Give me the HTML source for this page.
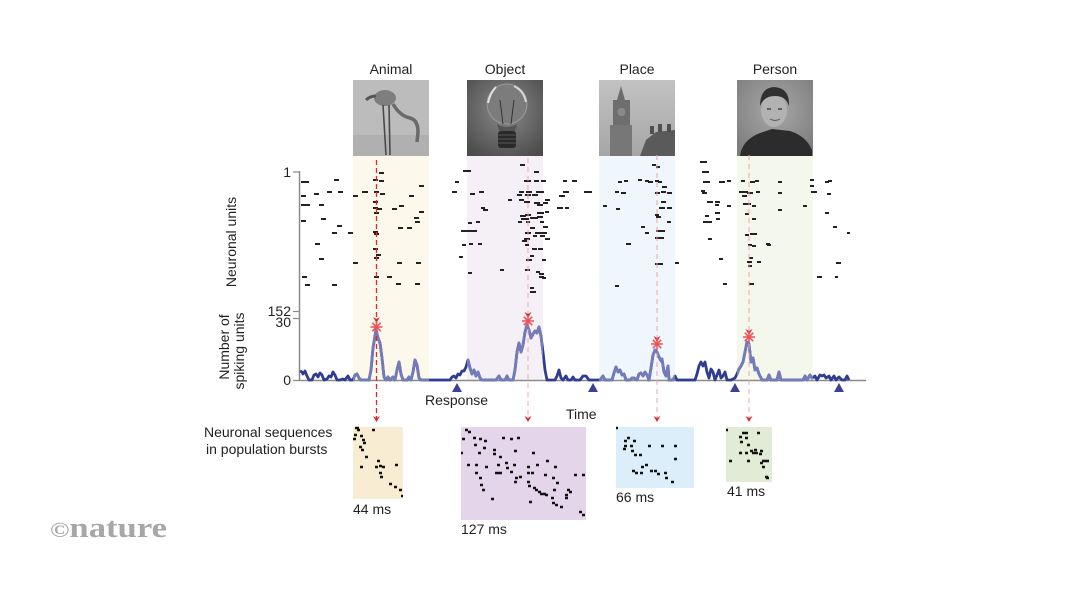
<!DOCTYPE html>
<html><head><meta charset="utf-8">
<style>
html,body{margin:0;padding:0;background:#fff;}
svg{display:block;}
text{font-family:"Liberation Sans",Arial,sans-serif;fill:#231f20;}
</style></head><body>
<svg width="1066" height="600" viewBox="0 0 1066 600" xmlns="http://www.w3.org/2000/svg">
<defs>
<clipPath id="shades">
<rect x="353" y="150" width="76" height="240"/>
<rect x="467" y="150" width="76" height="240"/>
<rect x="599" y="150" width="76" height="240"/>
<rect x="737" y="150" width="76" height="240"/>
</clipPath>
<radialGradient id="bulbbg" cx="0.5" cy="0.4" r="0.7">
<stop offset="0" stop-color="#8a8a8a"/><stop offset="1" stop-color="#4c4c4c"/>
</radialGradient>
<linearGradient id="skybg" x1="0" y1="0" x2="0" y2="1">
<stop offset="0" stop-color="#c2c2c2"/><stop offset="1" stop-color="#a6a6a6"/>
</linearGradient>
<radialGradient id="personbg" cx="0.5" cy="0.4" r="0.7">
<stop offset="0" stop-color="#a8a8a8"/><stop offset="1" stop-color="#7c7c7c"/>
</radialGradient>
<path id="tr" d="M300 371 L302 372 L303 374 L305 371 L307 376 L309 380 L312 380 L314 375 L316 374 L318 377 L320 373 L322 375 L324 380 L327 379 L329 376 L331 377 L333 372 L335 375 L337 380 L340 380 L343 379 L345 380 L348 376 L350 380 L353 380 L355 375 L357 374 L359 378 L361 380 L369 380 L371 370 L373 348 L376 330 L378 338 L380 343 L382 358 L384 377 L386 380 L388 377 L390 380 L393 377 L395 380 L397 370 L399 362 L401 374 L403 380 L407 380 L409 377 L411 380 L413 372 L415 360 L417 365 L419 378 L421 380 L450 380 L452 377 L454 376 L456 378 L458 374 L460 375 L462 371 L464 371 L466 367 L468 360 L470 368 L472 374 L474 370 L476 376 L478 372 L480 378 L482 380 L496 380 L499 376 L501 380 L505 380 L507 376 L509 380 L513 380 L515 370 L517 352 L519 343 L521 352 L523 345 L525 332 L527 325 L529 330 L531 338 L533 334 L535 331 L537 333 L539 327 L541 336 L543 352 L545 370 L547 380 L555 380 L557 376 L559 370 L561 378 L563 380 L566 376 L568 380 L571 380 L573 377 L575 380 L580 380 L583 376 L586 376 L589 380 L600 380 L603 376 L605 380 L612 380 L614 373 L616 367 L618 372 L620 370 L622 375 L624 374 L626 380 L630 380 L632 378 L634 378 L637 380 L639 374 L641 373 L643 376 L645 372 L647 375 L649 380 L651 368 L653 355 L655 350 L657 352 L659 357 L661 361 L662 359 L664 372 L666 376 L668 366 L669 380 L673 380 L675 376 L677 380 L695 380 L697 374 L699 366 L701 362 L703 366 L705 362 L707 372 L709 378 L711 369 L713 372 L715 380 L717 375 L719 370 L721 378 L723 376 L725 372 L727 380 L731 380 L735 378 L737 374 L739 369 L741 366 L743 362 L745 352 L747 342 L749 344 L751 362 L753 358 L755 370 L757 368 L759 374 L762 380 L767 380 L769 375 L771 380 L777 380 L779 372 L781 380 L803 380 L805 376 L807 380 L810 375 L812 378 L815 376 L817 380 L820 375 L822 376 L824 375 L826 378 L829 376 L831 380 L834 376 L836 380 L839 377 L842 380 L845 380 L847 376 L849 380"/>
</defs>

<!-- shaded regions -->
<rect x="353" y="155" width="76" height="225" fill="#fcf8ec"/>
<rect x="467" y="155" width="76" height="225" fill="#f4f0f6"/>
<rect x="599" y="155" width="76" height="225" fill="#f0f7fc"/>
<rect x="737" y="155" width="76" height="225" fill="#f4f7ec"/>

<!-- category titles -->
<text x="391" y="74" font-size="14" text-anchor="middle">Animal</text>
<text x="505" y="74" font-size="14" text-anchor="middle">Object</text>
<text x="637" y="74" font-size="14" text-anchor="middle">Place</text>
<text x="775" y="74" font-size="14" text-anchor="middle">Person</text>

<!-- Animal image -->
<rect x="353" y="80" width="76" height="76" fill="#bcbcbc"/>
<rect x="353" y="135" width="76" height="21" fill="#b0b0b0"/>
<ellipse cx="385" cy="98" rx="11" ry="8" fill="#7e7e7e"/>
<path d="M366 100 Q370 96 376 96" stroke="#555" stroke-width="3" fill="none"/>
<path d="M393 104 Q400 116 410 118 Q418 120 418 132 L417 142" stroke="#6a6a6a" stroke-width="3.5" fill="none"/>
<path d="M383 105 L386 155 M389 105 L390 155" stroke="#4a4a4a" stroke-width="1.6" fill="none"/>

<!-- Object image -->
<rect x="467" y="80" width="76" height="76" fill="url(#bulbbg)"/>
<circle cx="507" cy="104" r="20" fill="#7c7c7c" stroke="#9a9a9a" stroke-width="1"/>
<path d="M496 87 Q490 93 488 103" stroke="#e0e0e0" stroke-width="2" fill="none"/>
<path d="M514 86 Q524 91 526 102" stroke="#d8d8d8" stroke-width="2" fill="none"/>
<path d="M500 100 L503 124 M514 100 L511 124" stroke="#333" stroke-width="1" fill="none"/>
<path d="M497 124 Q507 130 517 124 L515 131 L499 131 Z" fill="#555"/>
<rect x="498" y="131" width="18" height="17" rx="3" fill="#2a2a2a"/>
<path d="M498 135h18M498 139h18M498 143h18" stroke="#555" stroke-width="1"/>

<!-- Place image -->
<rect x="599" y="80" width="76" height="76" fill="url(#skybg)"/>
<polygon points="617,100 621,86 625,100" fill="#6c6c6c"/>
<rect x="613" y="100" width="17" height="56" fill="#6e6e6e"/>
<circle cx="621.5" cy="112" r="4" fill="#8a8a8a"/>
<rect x="610" y="125" width="22" height="31" fill="#777"/>
<polygon points="640,156 646,140 656,132 675,130 675,156" fill="#5a5a5a"/>
<rect x="650" y="126" width="4" height="8" fill="#505050"/>
<rect x="658" y="124" width="4" height="8" fill="#505050"/>
<rect x="667" y="124" width="4" height="8" fill="#505050"/>

<!-- Person image -->
<rect x="737" y="80" width="76" height="76" fill="url(#personbg)"/>
<path d="M740 156 Q742 140 760 133 L772 129 L790 131 Q806 136 812 150 L812 156 Z" fill="#2c2c2c"/>
<ellipse cx="774" cy="110" rx="13" ry="17" fill="#b2b2b2"/>
<path d="M760 106 Q760 88 774 87 Q790 88 789 106 Q786 96 775 96 Q764 96 760 106 Z" fill="#303030"/>
<path d="M767 109h4M778 109h4" stroke="#444" stroke-width="1.5"/>
<path d="M770 119 Q775 122 780 119" stroke="#555" stroke-width="1" fill="none"/>

<!-- axes -->
<path d="M299.5 171 V380.5 M299 380.5 H866" stroke="#8c8c8c" stroke-width="1.5" fill="none"/>
<path d="M293 172 H300 M293 311.5 H300 M293 318.5 H300 M293 380.5 H300" stroke="#8c8c8c" stroke-width="1.2"/>
<text x="291" y="177" font-size="14" text-anchor="end">1</text>
<text x="291" y="316" font-size="14" text-anchor="end">152</text>
<text x="291" y="327" font-size="14" text-anchor="end">30</text>
<text x="291" y="385" font-size="14" text-anchor="end">0</text>

<text transform="translate(236,242) rotate(-90)" font-size="14" text-anchor="middle">Neuronal units</text>
<text transform="translate(229,347) rotate(-90)" font-size="14" text-anchor="middle">Number of</text>
<text transform="translate(244,351) rotate(-90)" font-size="14" text-anchor="middle">spiking units</text>

<!-- raster -->
<path stroke="#222" stroke-width="2" fill="none" d="
M301 182h5 M304 182h5 M334 180h5 M301 196h5 M314 194h5 M327 192h5 M338 192h5 M353 196h5 M363 192h5 M305 205h5 M301 205h4 M319 205h5 M301 221h5 M321 219h5 M337 226h5 M332 233h5 M348 233h5 M315 244h5 M319 259h5 M353 263h5 M302 277h5 M305 285h5 M332 285h5
M379 173h5 M373 180h5 M379 181h5 M419 186h5 M353 196h5 M362 192h5 M374 192h5 M380 194h5 M409 196h5 M373 202h5 M399 206h5 M392 209h5 M373 208h5 M377 209h5 M374 213h5 M419 212h5 M414 218h5 M415 222h5 M398 228h5 M407 228h5 M373 232h5 M374 234h5 M373 249h5 M376 255h5 M374 258h5 M397 263h5 M416 263h5 M374 277h5 M387 277h5 M396 284h5 M415 284h5
M520 165h5 M463 171h8 M534 172h5 M455 182h4 M524 181h7 M534 181h5 M541 181h5 M563 181h4 M573 181h4 M452 192h5 M470 194h5 M479 192h5 M519 192h5 M526 192h6 M536 192h8 M563 192h6 M584 192h8 M517 195h5 M525 195h6 M532 195h6 M559 196h6 M508 200h4 M519 200h5 M524 202h6 M534 203h6 M537 205h6 M543 203h5 M545 200h5 M481 208h4 M483 210h5 M557 208h6 M565 208h4 M603 206h4 M520 216h6 M525 215h6 M537 213h7 M545 212h4 M521 219h8 M530 218h8 M537 217h6 M468 223h4 M476 222h4 M518 222h4 M526 222h4 M540 222h4 M530 228h5 M543 227h5 M461 231h8 M469 231h8 M525 233h6 M535 233h8 M542 233h5 M533 236h4 M540 236h5 M524 239h6 M522 241h5 M545 239h5 M462 245h4 M469 244h4 M478 244h4 M525 245h4 M532 249h5 M538 249h5 M459 257h4 M530 256h4 M526 260h6 M542 260h4 M500 270h4 M525 270h5 M468 273h4 M536 272h4 M539 274h5 M539 277h5 M542 278h4 M530 288h4 M530 292h6
M652 165h4 M656 167h4 M572 181h5 M618 182h4 M624 181h4 M638 180h4 M645 181h4 M648 182h5 M655 181h4 M658 182h4 M662 187h5 M615 192h4 M621 193h5 M655 193h5 M661 192h5 M667 193h5 M661 202h5 M616 209h4 M659 208h6 M667 208h5 M655 215h4 M656 217h5 M667 222h4 M641 227h4 M645 233h4 M656 231h9 M655 238h9 M626 244h5 M655 264h8 M675 263h4 M615 286h4
M700 162h7 M702 172h7 M703 182h7 M719 182h6 M727 181h4 M701 191h4 M702 193h5 M741 181h4 M750 182h5 M755 181h4 M778 182h4 M810 180h4 M810 186h4 M825 182h4 M828 181h4 M739 192h9 M747 193h6 M756 192h4 M778 193h4 M811 192h6 M827 194h4 M742 196h5 M707 202h6 M715 202h5 M715 205h4 M727 206h4 M743 204h8 M752 206h4 M803 206h4 M778 210h4 M715 213h5 M705 216h4 M745 214h4 M703 222h9 M716 219h4 M752 219h4 M825 213h4 M833 227h4 M847 233h3 M745 235h4 M750 234h7 M708 239h4 M752 246h4 M766 244h4 M719 259h4 M723 284h4 M748 245h4 M767 245h4 M749 258h4 M747 262h5 M757 262h4 M748 266h4 M749 284h5 M836 263h5 M817 277h5 M835 277h3"/>

<!-- population trace -->
<g fill="none" stroke-width="2.8" stroke-linejoin="round">
<use href="#tr" stroke="#2f3c90"/>
<use href="#tr" stroke="#737bb9" clip-path="url(#shades)"/>
</g>

<!-- triangles -->
<g fill="#3b4196">
<polygon points="452,392 457,383 462,392"/>
<polygon points="588,392 593,383 598,392"/>
<polygon points="730,392 735,383 740,392"/>
<polygon points="834,392 839,383 844,392"/>
</g>
<text x="425" y="405" font-size="14">Response</text>
<text x="566" y="419" font-size="14">Time</text>

<!-- dashed arrows -->
<path d="M376.5 160 V418" stroke="#e3262d" stroke-width="1.3" stroke-dasharray="5 3" fill="none"/>
<path d="M528 158 V418 M657 155 V418 M749 155 V418" stroke="#f1a3a8" stroke-width="1" stroke-dasharray="5 4" fill="none"/>
<g fill="#e5262d">
<path d="M373 317 L376.5 323 L380 317 L376.5 319 Z"/>
<path d="M524.5 312 L528 318 L531.5 312 L528 314 Z"/>
<path d="M653.5 336 L657 342 L660.5 336 L657 338 Z"/>
<path d="M745.5 329 L749 335 L752.5 329 L749 331 Z"/>
<path d="M373 416 L376.5 422 L380 416 L376.5 418 Z"/>
<path d="M524.5 416 L528 422 L531.5 416 L528 418 Z"/>
<path d="M653.5 416 L657 422 L660.5 416 L657 418 Z"/>
<path d="M745.5 416 L749 422 L752.5 416 L749 418 Z"/>
</g>
<!-- stars -->
<g stroke="#ec5158" stroke-width="1.5" fill="none">
<path d="M376.5 321v12M370.5 327h12M372.3 322.8l8.4 8.4M372.3 331.2l8.4-8.4"/>
<path d="M528 315v12M522 321h12M523.8 316.8l8.4 8.4M523.8 325.2l8.4-8.4"/>
<path d="M657 338v12M651 344h12M652.8 339.8l8.4 8.4M652.8 348.2l8.4-8.4"/>
<path d="M749 331v12M743 337h12M744.8 332.8l8.4 8.4M744.8 341.2l8.4-8.4"/>
</g>

<!-- bottom panels -->
<text x="204" y="437" font-size="14">Neuronal sequences</text>
<text x="206" y="454" font-size="14">in population bursts</text>

<rect x="353" y="427" width="50" height="72" fill="#f8ecd2"/>
<rect x="461" y="427" width="125" height="93" fill="#e4d5ea"/>
<rect x="616" y="427" width="78" height="61" fill="#dbeefa"/>
<rect x="726" y="427" width="46" height="55" fill="#e2ebd6"/>

<path stroke="#111" stroke-width="2.4" fill="none" d="
M355 428h4 M357 430h3 M372 430h3 M354 435h3 M360 436h3 M353 439h3 M362 440h3 M363 443h3 M359 447h3 M361 450h3 M365 457h3 M377 461h3 M375 467h3 M379 466h3 M382 467h3 M360 467h3 M395 465h3 M379 473h3 M380 477h3 M389 484h3 M394 487h3 M399 490h3 M401 496h2
M465 430h3 M468 432h3 M462 439h3 M473 438h3 M479 439h3 M484 441h3 M502 438h3 M510 439h3 M517 438h3 M474 445h3 M483 448h3 M461 453h2 M478 453h3 M493 450h3 M493 454h3 M514 451h3 M499 457h3 M532 453h3 M546 461h3 M467 465h3 M475 465h3 M485 467h3 M497 465h3 M505 463h3 M506 468h3 M513 465h3 M527 467h3 M536 465h3 M554 467h3 M495 473h7 M510 472h3 M527 473h3 M531 473h3 M475 473h3 M479 478h3 M480 485h3 M482 490h3 M519 477h3 M515 478h3 M514 482h3 M544 475h3 M552 478h3 M556 483h3 M527 482h3 M528 486h3 M533 488h3 M535 490h3 M538 492h3 M540 494h3 M543 494h3 M545 495h3 M553 490h3 M567 490h3 M565 495h3 M569 492h3 M574 475h3 M582 475h3 M551 498h3 M552 503h3 M555 505h3 M560 507h3 M565 498h3 M529 502h3 M491 499h3 M579 512h3 M582 515h3
M616 428h2 M627 438h3 M624 441h3 M633 441h3 M624 446h3 M630 446h3 M623 449h3 M631 451h3 M634 455h3 M639 455h3 M648 446h3 M661 446h3 M674 446h3 M674 459h3 M641 467h3 M645 465h3 M632 471h3 M635 473h3 M640 473h3 M650 471h3 M654 471h3 M657 474h3 M664 473h3 M665 478h3 M671 482h3
M726 430h2 M742 433h3 M745 433h3 M757 433h3 M739 437h3 M740 442h3 M745 438h3 M747 445h3 M739 453h3 M745 453h3 M750 451h3 M752 453h3 M754 450h3 M755 453h3 M760 451h3 M759 454h3 M729 461h3 M747 461h3 M762 461h3 M765 461h4 M760 463h3 M762 467h3 M765 477h3 M766 478h3"/>

<text x="353" y="514" font-size="14">44 ms</text>
<text x="461" y="534" font-size="14">127 ms</text>
<text x="616" y="502" font-size="14">66 ms</text>
<text x="727" y="496" font-size="14">41 ms</text>

<!-- logo -->
<text x="50" y="537" style="font-family:'Liberation Serif',serif;font-weight:bold;font-size:28px;fill:#a7a7a7" textLength="117" lengthAdjust="spacingAndGlyphs"><tspan style="font-size:21px">©</tspan>nature</text>
</svg>
</body></html>
